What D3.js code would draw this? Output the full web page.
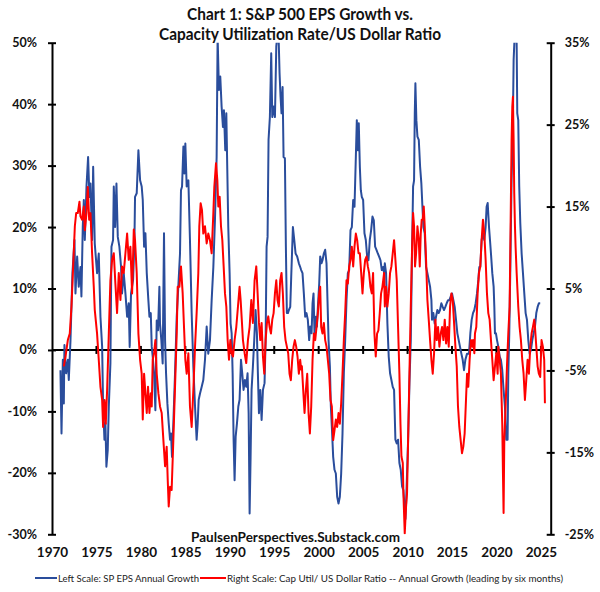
<!DOCTYPE html>
<html><head><meta charset="utf-8">
<script src="https://cdn.jsdelivr.net/npm/d3@7"></script>
<style>body{margin:0;background:#fff} svg{display:block}</style>
</head><body><svg id="chart" width="600" height="592"></svg>
<script>
const titleLines = ["Chart 1: S&P 500 EPS Growth vs.", "Capacity Utilization Rate/US Dollar Ratio"];
const leftTicks = [-30, -20, -10, 0, 10, 20, 30, 40, 50];
const rightTicks = [-25, -15, -5, 5, 15, 25, 35];
const yearTicks = [1970, 1975, 1980, 1985, 1990, 1995, 2000, 2005, 2010, 2015, 2020, 2025];
const legendLabels = ["Left Scale: SP EPS Annual Growth", "Right Scale: Cap Util/ US Dollar Ratio -- Annual Growth (leading by six months)"];
const watermark = "PaulsenPerspectives.Substack.com";

// [year, % growth] — left scale
const epsSeries = [
[1970.95,-3.3],[1971.07,-13.6],[1971.22,-1.6],[1971.33,-8.7],[1971.40,0.8],[1971.59,-3.8],[1971.78,-1.6],[1971.89,-4.9],[1972.08,1.6],[1972.30,12.5],[1972.53,17.9],[1972.64,9.2],[1972.83,15.2],[1973.01,10.3],[1973.20,13.5],[1973.31,8.7],[1973.46,20.0],[1973.58,24.4],[1973.69,17.9],[1973.88,26.6],[1974.06,31.4],[1974.21,24.9],[1974.33,27.1],[1974.51,17.9],[1974.63,29.8],[1974.81,17.3],[1975.07,12.5],[1975.26,15.7],[1975.45,5.4],[1975.64,0.5],[1975.75,-9.2],[1975.90,-14.6],[1976.01,-11.9],[1976.12,-19.0],[1976.27,-16.3],[1976.39,-9.2],[1976.57,-2.2],[1976.69,16.8],[1976.87,17.9],[1976.95,26.6],[1977.10,20.0],[1977.25,27.1],[1977.40,18.4],[1977.58,16.8],[1977.77,13.5],[1977.88,9.2],[1978.07,12.5],[1978.26,9.2],[1978.45,5.4],[1978.63,7.6],[1978.74,0.5],[1978.89,9.2],[1979.12,11.4],[1979.27,17.4],
[1979.34,24.9],[1979.53,25.5],[1979.72,32.5],[1979.91,27.6],[1980.09,26.6],[1980.21,24.4],[1980.36,16.8],[1980.51,19.0],[1980.66,12.5],[1980.84,8.1],[1980.96,5.4],[1981.11,6.0],[1981.22,0.5],[1981.33,-1.1],[1981.48,-3.8],[1981.63,-9.8],[1981.78,4.8],[1981.93,3.2],[1982.08,10.3],[1982.15,4.3],[1982.30,1.6],[1982.45,-2.2],[1982.60,19.0],[1982.72,1.6],[1982.83,-3.8],[1982.98,-8.7],[1983.13,-11.9],[1983.28,-14.6],[1983.39,-13.6],[1983.50,-17.4],[1983.65,-11.9],[1983.84,-3.8],[1984.03,5.4],[1984.21,10.3],[1984.40,15.7],[1984.51,26.0],[1984.63,26.6],[1984.78,33.1],[1984.89,28.7],[1985.00,33.6],[1985.15,26.6],[1985.34,27.6],[1985.52,17.9],[1985.71,6.0],[1985.90,-2.7],[1986.09,-9.2],[1986.27,-14.6],[1986.39,-11.9],[1986.50,-8.1],[1986.65,-7.1],[1986.84,-6.0],[1987.02,-4.9],[1987.21,-1.6],[1987.40,3.8],[1987.58,-0.6],[1987.77,1.6],[1987.96,8.1],[1988.15,13.5],[1988.33,21.1],[1988.52,31.4],[1988.63,51],
[1988.78,42.3],[1988.93,44.5],[1989.08,39.6],[1989.23,36.3],[1989.34,39.0],[1989.49,32.5],[1989.61,38.5],[1989.72,29.3],[1989.83,20.0],[1989.98,12.5],[1990.09,4.3],[1990.21,2.7],[1990.32,-3.8],[1990.43,-14.6],[1990.54,-21.2],[1990.66,-14.1],[1990.81,-11.9],[1990.96,-9.2],[1991.10,-8.1],[1991.26,-1.6],[1991.40,-3.8],[1991.55,-6.5],[1991.70,-4.9],[1991.85,-6.0],[1992.00,-3.8],[1992.12,-10.3],[1992.23,-26.6],[1992.34,-17.4],[1992.45,-6.5],[1992.60,-2.7],[1992.75,1.6],[1992.90,6.5],[1993.05,2.7],[1993.16,-3.8],[1993.28,-10.3],[1993.43,-6.5],[1993.58,-11.4],[1993.73,-6.5],[1993.91,-5.4],[1994.03,1.6],[1994.14,16.8],[1994.25,18.4],[1994.36,34.2],[1994.51,37.9],[1994.66,48.3],[1994.78,37.9],[1994.93,39.6],[1995.08,37.9],[1995.23,49.4],[1995.34,51],[1995.49,51],[1995.60,45.0],[1995.71,41.2],[1995.82,38.5],[1995.94,42.8],[1996.05,31.4],[1996.20,31.2],[1996.31,16.8],[1996.42,6.0],[1996.54,6.0],[1996.65,6.5],[1996.80,7.0],[1996.91,11.9],[1997.10,20.0],[1997.25,17.9],[1997.40,15.7],[1997.58,15.2],[1997.77,14.1],[1997.92,13.5],[1998.03,13.0],
[1998.18,12.5],[1998.33,9.2],[1998.48,5.4],[1998.63,6.0],[1998.78,4.9],[1998.93,1.6],[1999.05,3.8],[1999.20,2.7],[1999.31,7.6],[1999.42,9.2],[1999.53,2.7],[1999.68,5.4],[1999.80,3.8],[1999.91,7.0],[2000.06,10.8],[2000.17,15.2],[2000.32,14.1],[2000.43,14.6],[2000.58,15.7],[2000.73,16.3],[2000.88,14.1],[2000.99,8.1],[2001.11,1.6],[2001.26,-2.7],[2001.37,-9.2],[2001.48,-12.5],[2001.63,-17.4],[2001.78,-19.5],[2001.93,-20.1],[2002.08,-23.9],[2002.23,-25.0],[2002.38,-23.9],[2002.53,-20.1],[2002.68,-13.6],[2002.83,-3.8],[2002.98,1.6],[2003.13,8.1],[2003.28,12.5],[2003.43,13.0],[2003.58,19.5],[2003.73,20.0],[2003.88,24.4],[2004.03,23.3],[2004.18,31.4],[2004.29,37.4],[2004.40,32.5],[2004.51,36.9],[2004.63,29.8],[2004.74,26.0],[2004.85,24.9],[2005.00,24.4],[2005.15,19.0],[2005.30,17.9],[2005.45,15.2],[2005.60,14.6],[2005.75,17.9],[2005.90,19.5],[2006.05,21.7],[2006.20,21.1],[2006.35,16.8],[2006.50,16.3],[2006.65,15.7],[2006.80,15.2],[2006.95,14.6],[2007.10,13.0],[2007.25,13.5],[2007.36,12.5],
[2007.44,14.1],[2007.58,12.5],[2007.73,4.3],[2007.88,-1.1],[2008.03,-3.8],[2008.18,-4.9],[2008.33,-6.0],[2008.48,-6.5],[2008.63,-14.6],[2008.78,-15.2],[2008.93,-14.6],[2009.08,-18.4],[2009.23,-19.5],[2009.38,-22.2],[2009.53,-22.8],[2009.68,-26.0],[2009.76,-27.5],[2009.83,-25.0],[2009.94,-20.1],[2010.06,-14.6],[2010.21,-5.4],[2010.36,1.6],[2010.51,16.8],[2010.62,26.6],[2010.73,27.6],[2010.81,38.5],[2010.88,43.4],[2010.99,37.4],[2011.11,34.7],[2011.26,34.2],[2011.41,29.8],[2011.55,27.1],[2011.67,23.3],[2011.78,20.0],[2011.93,19.0],[2012.08,13.5],[2012.23,12.5],[2012.38,11.4],[2012.53,10.3],[2012.68,8.1],[2012.75,4.9],[2012.90,6.0],[2013.05,4.3],[2013.20,5.4],[2013.35,6.5],[2013.50,6.0],[2013.65,6.5],[2013.80,7.6],[2013.95,7.0],[2014.10,6.5],[2014.25,7.0],[2014.40,7.6],[2014.55,8.1],[2014.70,8.1],[2014.85,8.7],[2015.00,9.2],[2015.15,8.1],[2015.30,7.0],[2015.45,4.9],[2015.60,2.7],[2015.75,1.6],[2015.90,0.5],[2016.05,-0.6],[2016.20,-1.6],[2016.35,-3.3],[2016.50,-1.6],[2016.69,-0.6],
[2016.76,-0.6],[2016.91,-0.6],[2017.06,2.7],[2017.21,4.9],[2017.36,6.0],[2017.51,6.5],[2017.66,7.6],[2017.81,9.2],[2017.96,11.4],[2018.07,13.5],[2018.18,13.5],[2018.33,17.9],[2018.48,19.0],[2018.63,17.9],[2018.78,20.0],[2018.89,23.3],[2019.01,23.9],[2019.16,20.0],[2019.27,17.9],[2019.38,15.7],[2019.53,12.5],[2019.68,10.3],[2019.76,7.0],[2019.83,2.7],[2019.94,2.7],[2020.06,1.6],[2020.21,0.5],[2020.36,-1.1],[2020.50,-1.6],[2020.65,-3.3],[2020.80,-6.5],[2020.95,-9.2],[2021.10,-14.6],[2021.25,-14.6],[2021.33,-3.8],[2021.44,2.7],[2021.55,12.5],[2021.70,27.6],[2021.82,34.2],[2021.93,47.2],[2022.04,51],[2022.15,51],[2022.27,49.9],[2022.34,38.5],[2022.45,37.4],[2022.56,26.6],[2022.68,20.6],[2022.83,15.7],[2022.98,12.5],[2023.13,9.2],[2023.28,6.0],[2023.43,4.9],[2023.58,1.6],[2023.73,-0.6],[2023.88,0.0],[2024.03,1.6],[2024.18,2.7],[2024.33,3.8],[2024.48,6.0],[2024.63,7.0],[2024.77,7.6],[2024.92,7.6]
];

// [year, % growth] — right scale
const capSeries = [
[1971.33,-4.5],[1971.52,-3.3],[1971.78,-1.3],[1972.00,-0.5],[1972.19,2.8],[1972.38,7.7],[1972.57,12.6],[1972.72,14.2],[1972.90,14.2],[1973.09,15.6],[1973.20,13.8],[1973.39,13.4],[1973.58,15.0],[1973.69,12.1],[1973.88,14.2],[1974.03,17.4],[1974.18,13.4],[1974.33,14.2],[1974.51,9.3],[1974.70,5.2],[1974.81,2.4],[1975.07,-0.5],[1975.26,-3.7],[1975.45,-7.0],[1975.64,-8.6],[1975.75,-11.9],[1975.90,-8.6],[1976.05,-11.5],[1976.20,-7.4],[1976.39,-0.5],[1976.57,6.0],[1976.76,8.5],[1976.95,9.3],[1977.13,5.6],[1977.32,2.0],[1977.51,6.9],[1977.70,3.6],[1977.88,7.7],[1978.07,6.9],[1978.26,9.3],[1978.45,11.7],[1978.63,8.5],[1978.82,10.1],[1979.01,4.4],[1979.20,12.2],
[1979.34,10.9],[1979.53,6.9],[1979.72,-0.5],[1979.91,-3.7],[1980.09,-5.4],[1980.21,-11.0],[1980.36,-5.4],[1980.51,-7.8],[1980.66,-10.2],[1980.80,-7.0],[1980.96,-10.2],[1981.11,-7.8],[1981.22,-9.4],[1981.33,-3.7],[1981.48,-2.9],[1981.63,-1.3],[1981.78,-5.4],[1981.97,-7.8],[1982.15,-9.4],[1982.34,-10.2],[1982.53,-13.5],[1982.72,-16.7],[1982.90,-14.3],[1983.02,-18.4],[1983.13,-21.6],[1983.28,-19.2],[1983.46,-19.6],[1983.65,-13.5],[1983.84,-7.0],[1984.03,-0.5],[1984.14,5.2],[1984.33,5.2],[1984.51,7.7],[1984.70,4.4],[1984.85,0.3],[1985.00,-3.7],[1985.15,-5.4],[1985.34,-2.9],[1985.52,-9.4],[1985.71,-11.9],[1985.90,-7.4],[1986.09,-2.1],[1986.27,2.0],[1986.46,6.9],[1986.57,12.6],[1986.72,15.4],[1986.87,14.6],[1987.02,11.7],[1987.21,12.6],[1987.40,10.5],[1987.58,11.7],[1987.77,10.9],[1987.96,9.3],[1988.15,14.2],[1988.26,17.4],[1988.45,20.3],
[1988.60,18.2],[1988.71,15.0],[1988.86,16.2],[1989.01,12.6],[1989.16,10.9],[1989.31,7.7],[1989.46,4.4],[1989.61,2.8],[1989.76,-1.3],[1989.91,-3.7],[1990.06,-1.3],[1990.21,-2.9],[1990.36,-3.3],[1990.54,-1.3],[1990.73,0.3],[1990.92,2.8],[1991.10,5.2],[1991.22,3.6],[1991.37,0.8],[1991.48,-1.3],[1991.67,-2.9],[1991.85,-4.1],[1992.04,-1.3],[1992.23,0.3],[1992.42,3.6],[1992.60,0.8],[1992.79,6.0],[1992.98,7.7],[1993.13,4.4],[1993.28,0.8],[1993.43,-1.3],[1993.58,0.8],[1993.73,-3.3],[1993.88,-5.4],[1994.03,-1.3],[1994.18,0.8],[1994.33,1.6],[1994.48,0.3],[1994.63,-0.5],[1994.78,1.2],[1994.93,2.0],[1995.08,4.4],[1995.23,6.0],[1995.37,3.6],[1995.52,2.8],[1995.67,6.0],[1995.82,6.9],[1995.97,4.4],[1996.12,0.3],[1996.27,-1.3],[1996.42,-2.1],[1996.57,-2.9],[1996.72,-5.4],[1996.87,-6.2],[1997.02,-3.7],[1997.17,-2.1],[1997.32,-1.3],[1997.47,-2.1],[1997.62,-3.3],[1997.77,-5.4],[1997.92,-3.7],[1998.03,-4.9],
[1998.11,-4.5],[1998.26,-7.4],[1998.41,-10.2],[1998.56,-7.4],[1998.71,-5.4],[1998.86,-10.2],[1999.01,-12.7],[1999.16,-9.4],[1999.31,-3.7],[1999.46,-0.5],[1999.61,-1.3],[1999.76,0.3],[1999.91,2.0],[2000.06,4.4],[2000.17,5.2],[2000.28,0.3],[2000.43,-0.5],[2000.58,0.8],[2000.73,-1.3],[2000.88,-2.1],[2001.03,-3.7],[2001.18,-5.4],[2001.33,-8.6],[2001.48,-9.4],[2001.63,-13.5],[2001.78,-12.3],[2001.93,-11.0],[2002.08,-11.9],[2002.23,-10.2],[2002.38,-11.5],[2002.53,-9.0],[2002.68,-5.4],[2002.83,-1.3],[2002.98,2.0],[2003.13,6.0],[2003.28,5.6],[2003.43,7.7],[2003.58,8.5],[2003.73,10.1],[2003.88,7.7],[2004.03,10.1],[2004.18,11.7],[2004.33,10.9],[2004.48,9.3],[2004.63,9.3],[2004.78,6.9],[2004.93,4.4],[2005.08,6.9],[2005.23,8.5],[2005.38,8.9],[2005.53,7.7],[2005.67,6.9],[2005.82,5.2],[2005.97,4.4],[2006.12,6.9],[2006.27,-0.5],[2006.42,-3.3],[2006.57,-0.5],[2006.72,-0.1],[2006.87,2.0],[2007.02,4.4],[2007.17,5.2],[2007.36,6.9],
[2007.44,2.8],[2007.58,5.2],[2007.73,2.8],[2007.88,4.4],[2008.03,6.9],[2008.18,7.7],[2008.33,9.3],[2008.48,10.9],[2008.63,8.5],[2008.78,6.0],[2008.93,0.3],[2009.08,-5.4],[2009.20,-11.5],[2009.31,-15.5],[2009.46,-16.3],[2009.53,-20.0],[2009.68,-24.9],[2009.83,-21.6],[2009.94,-20.0],[2010.06,-13.5],[2010.21,-5.4],[2010.36,2.8],[2010.51,10.1],[2010.62,14.2],[2010.73,12.6],[2010.84,7.7],[2010.96,9.3],[2011.11,12.6],[2011.26,10.9],[2011.37,7.7],[2011.48,11.7],[2011.59,13.4],[2011.70,13.4],[2011.82,15.0],[2011.93,12.6],[2012.08,8.5],[2012.23,3.6],[2012.38,1.2],[2012.53,-1.3],[2012.68,-3.7],[2012.83,-5.4],[2012.98,-2.9],[2013.13,1.2],[2013.28,-1.3],[2013.43,0.3],[2013.58,-2.1],[2013.73,-0.5],[2013.88,0.3],[2014.03,-1.3],[2014.18,1.2],[2014.33,-1.7],[2014.48,0.3],[2014.63,-2.1],[2014.78,2.8],[2014.93,4.4],[2015.08,3.6],[2015.23,0.8],[2015.38,-2.1],[2015.53,-4.5],[2015.67,-9.4],[2015.82,-11.9],[2015.97,-13.5],[2016.12,-15.1],[2016.27,-14.3],[2016.42,-12.7],[2016.57,-8.6],[2016.69,-5.4],
[2016.83,-7.0],[2016.98,-3.7],[2017.13,-1.3],[2017.28,-2.1],[2017.36,-1.3],[2017.51,-2.9],[2017.58,-0.5],[2017.73,0.3],[2017.88,4.4],[2018.03,6.9],[2018.18,7.7],[2018.33,10.9],[2018.48,13.4],[2018.63,11.7],[2018.78,8.5],[2018.93,4.4],[2019.08,2.0],[2019.23,1.2],[2019.38,-1.3],[2019.53,-3.7],[2019.68,-6.2],[2019.83,-4.5],[2019.98,-2.9],[2020.13,-5.4],[2020.21,-2.1],[2020.36,-3.7],[2020.50,-5.4],[2020.65,-11.5],[2020.73,-17.6],[2020.80,-22.4],[2020.88,-13.5],[2021.03,-9.4],[2021.18,-4.5],[2021.33,-0.5],[2021.48,2.8],[2021.63,16.6],[2021.70,23.1],[2021.78,27.2],[2021.85,28.4],[2021.93,23.1],[2022.00,16.6],[2022.08,12.6],[2022.15,10.1],[2022.27,6.9],[2022.38,4.4],[2022.45,2.8],[2022.60,0.3],[2022.75,-1.3],[2022.90,-3.7],[2023.05,-5.4],[2023.20,-8.6],[2023.35,-6.2],[2023.50,-3.7],[2023.65,-5.4],[2023.80,-2.1],[2023.95,-0.5],[2024.10,0.3],[2024.25,1.2],[2024.33,0.3],[2024.48,-2.1],[2024.63,-4.5],[2024.77,-5.4],[2024.92,-5.8],[2025.07,-1.3],[2025.22,-2.1],[2025.37,-3.7],[2025.45,-9.0]
];

const BLUE = "#2a4d9c", RED = "#ff0000", FONT = "Lato, 'Open Sans', sans-serif";
const svg = d3.select("#chart");
const x = d3.scaleLinear().domain([1970, 2026.1]).range([52, 550.7]);
const yL = d3.scaleLinear().domain([-30, 50]).range([534.3, 42.7]);
const yR = d3.scaleLinear().domain([-25, 35]).range([534.3, 42.7]);

svg.append("rect").attr("width", 600).attr("height", 592).attr("fill", "#fff");

// title
svg.append("g").selectAll("text").data(titleLines).join("text")
  .attr("x", 300).attr("y", (d, i) => 20 + i * 19.5)
  .attr("text-anchor", "middle").attr("font-family", FONT).attr("font-weight", "bold")
  .attr("font-size", 17).attr("fill", "#111")
  .attr("textLength", (d, i) => i === 0 ? 226 : 282).attr("lengthAdjust", "spacingAndGlyphs")
  .text(d => d);

svg.append("defs").append("clipPath").attr("id", "plot").append("rect")
  .attr("x", x.range()[0]).attr("y", yL(50))
  .attr("width", x.range()[1] - x.range()[0]).attr("height", yL(-30) - yL(50));

// zero line with year ticks
const y0 = yL(0);
svg.append("line").attr("x1", x(1970)).attr("x2", x(2026.1)).attr("y1", y0).attr("y2", y0)
  .attr("stroke", "#000").attr("stroke-width", 2);
svg.append("g").selectAll("line").data(yearTicks.slice(1)).join("line")
  .attr("x1", d => x(d)).attr("x2", d => x(d)).attr("y1", y0 - 4).attr("y2", y0 + 4)
  .attr("stroke", "#000").attr("stroke-width", 2);

// series
const lineL = d3.line().x(d => x(d[0])).y(d => yL(d[1]));
const lineR = d3.line().x(d => x(d[0])).y(d => yR(d[1]));
const plot = svg.append("g").attr("clip-path", "url(#plot)");
plot.append("path").datum(epsSeries).attr("d", lineL).attr("fill", "none")
  .attr("stroke", BLUE).attr("stroke-width", 2).attr("stroke-linejoin", "round");
plot.append("path").datum(capSeries).attr("d", lineR).attr("fill", "none")
  .attr("stroke", RED).attr("stroke-width", 2).attr("stroke-linejoin", "round");

// left axis
const axL = svg.append("g").attr("transform", `translate(${x(1970)},0)`)
  .call(d3.axisLeft(yL).tickValues(leftTicks).tickFormat(d => d + "%").tickSizeInner(4).tickSizeOuter(0).tickPadding(11));
axL.select(".domain").attr("stroke-width", 2);
axL.selectAll(".tick line").attr("x1", 4).attr("stroke-width", 2);
axL.selectAll("text").attr("font-family", FONT).attr("font-weight", "bold").attr("font-size", 12.5).attr("fill", "#111");

// right axis
const axR = svg.append("g").attr("transform", `translate(${x(2026.1)},0)`)
  .call(d3.axisRight(yR).tickValues(rightTicks).tickFormat(d => d + "%").tickSizeInner(4).tickSizeOuter(0).tickPadding(10));
axR.select(".domain").attr("stroke-width", 2);
axR.selectAll(".tick line").attr("x1", -4).attr("stroke-width", 2);
axR.selectAll("text").attr("font-family", FONT).attr("font-weight", "bold").attr("font-size", 12.5).attr("fill", "#111");

// year labels
const axX = svg.append("g").attr("transform", "translate(0,547)")
  .call(d3.axisBottom(x).tickValues(yearTicks).tickFormat(d3.format("d")).tickSize(0).tickPadding(0));
axX.select(".domain").remove();
axX.selectAll("text").attr("font-family", FONT).attr("font-weight", "bold").attr("font-size", 13.5).attr("fill", "#111");

// watermark
svg.append("text").attr("x", 191).attr("y", 542).attr("font-family", FONT).attr("font-weight", "bold")
  .attr("font-size", 14).attr("fill", "#111").attr("textLength", 209).attr("lengthAdjust", "spacingAndGlyphs")
  .text(watermark);

// legend
const legendItems = [
  {label: legendLabels[0], color: BLUE, lx: 35, lw: 22, tw: 141},
  {label: legendLabels[1], color: RED, lx: 200, lw: 26, tw: 336}
];
const lg = svg.append("g").selectAll("g").data(legendItems).join("g");
lg.append("line").attr("x1", d => d.lx).attr("x2", d => d.lx + d.lw).attr("y1", 578).attr("y2", 578)
  .attr("stroke", d => d.color).attr("stroke-width", 2);
lg.append("text").attr("x", d => d.lx + d.lw + 1).attr("y", 581.5).attr("font-family", FONT)
  .attr("font-size", 9.5).attr("fill", "#222").attr("textLength", d => d.tw).attr("lengthAdjust", "spacingAndGlyphs")
  .text(d => d.label);
</script>
</body></html>
